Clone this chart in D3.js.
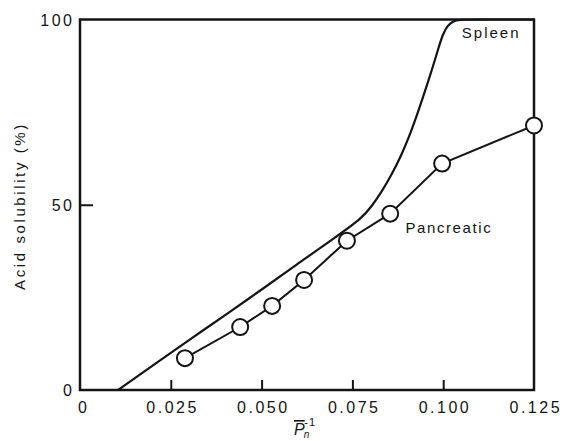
<!DOCTYPE html>
<html><head><meta charset="utf-8">
<script src="https://cdn.jsdelivr.net/npm/d3@7"></script>
<style>body{margin:0;background:#fff}svg{display:block}</style>
</head><body><svg id="c" width="562" height="441"></svg>
<script>
// ---- data ----
const xTicks = [0, 0.025, 0.05, 0.075, 0.1, 0.125];
const xTickLabels = ["0", "0.025", "0.050", "0.075", "0.100", "0.125"];
const xInnerTicks = [0.025, 0.05, 0.075, 0.1];
const yTicks = [0, 50, 100];
const yTickLabels = ["0", "50", "100"];
const yInnerTicks = [50];
const pancX = [0.0289, 0.0441, 0.0529, 0.0617, 0.0735, 0.0854, 0.0997, 0.125];
const pancY = [8.6, 17.0, 22.7, 29.7, 40.3, 47.6, 61.1, 71.4];
const spleenX = [0.0105, 0.0200, 0.0300, 0.0413, 0.0500, 0.0600, 0.0700, 0.0776, 0.0804, 0.0832, 0.0859, 0.0884, 0.0906, 0.0925, 0.0942, 0.0958, 0.0972, 0.0986, 0.0999, 0.1013, 0.1027, 0.1041, 0.1100, 0.125];
const spleenY = [0, 6.6, 13.5, 21.1, 27.1, 34.1, 41.0, 46.3, 49.7, 53.7, 58.3, 63.2, 68.3, 73.4, 78.3, 83.1, 87.4, 92.0, 96.1, 98.5, 99.5, 100, 100, 100];
const seriesLabels = ["Spleen", "Pancreatic"];
const xTitle = ["P", "n", "-1"];
const yTitle = "Acid solubility (%)";

// ---- layout ----
const L = 80, R = 534, T = 19.5, B = 390;
const ink = "#141414";
const font = "'Liberation Sans', Arial, sans-serif";
const svg = d3.select("#c");
const x = d3.scaleLinear().domain([0, 0.125]).range([L, R]);
const y = d3.scaleLinear().domain([0, 100]).range([B, T]);

// frame
svg.append("rect").attr("x", L).attr("y", T).attr("width", R - L).attr("height", B - T)
  .attr("fill", "none").attr("stroke", ink).attr("stroke-width", 2.5);

// inner ticks
const gx = svg.append("g").attr("transform", `translate(0,${B})`)
  .call(d3.axisBottom(x).tickValues(xInnerTicks).tickSizeInner(-10).tickSizeOuter(0).tickFormat(""));
gx.select(".domain").remove();
gx.selectAll("line").attr("stroke", ink).attr("stroke-width", 2);
const gy = svg.append("g").attr("transform", `translate(${L},0)`)
  .call(d3.axisLeft(y).tickValues(yInnerTicks).tickSizeInner(-13).tickSizeOuter(0).tickFormat(""));
gy.select(".domain").remove();
gy.selectAll("line").attr("stroke", ink).attr("stroke-width", 2);

// tick labels
const ls = 2.5;
const gxl = svg.append("g").attr("transform", `translate(0,${B})`)
  .call(d3.axisBottom(x).tickValues(xTicks).tickSize(0).tickFormat((d, i) => xTickLabels[i]));
gxl.select(".domain").remove();
gxl.selectAll("text").attr("y", 23).attr("dy", 0).attr("dx", ls / 2)
  .attr("font-family", font).attr("font-size", 16).attr("fill", ink)
  .style("letter-spacing", ls + "px");
gxl.selectAll(".tick").filter(d => d === 0).select("text").attr("dx", ls / 2 + 2);
const gyl = svg.append("g").attr("transform", `translate(${L},0)`)
  .call(d3.axisLeft(y).tickValues(yTicks).tickSize(0).tickFormat((d, i) => yTickLabels[i]));
gyl.select(".domain").remove();
gyl.selectAll("text").attr("x", -8 + ls).attr("dy", "0.36em")
  .attr("font-family", font).attr("font-size", 16).attr("fill", ink)
  .style("letter-spacing", ls + "px");

// spleen curve
const spleen = spleenX.map((v, i) => [v, spleenY[i]]);
svg.append("path").datum(spleen)
  .attr("d", d3.line().x(d => x(d[0])).y(d => y(d[1])).curve(d3.curveBasis))
  .attr("fill", "none").attr("stroke", ink).attr("stroke-width", 2.2);

// pancreatic
const panc = pancX.map((v, i) => [v, pancY[i]]);
svg.append("path").datum(panc)
  .attr("d", d3.line().x(d => x(d[0])).y(d => y(d[1])))
  .attr("fill", "none").attr("stroke", ink).attr("stroke-width", 2);
svg.selectAll("circle.p").data(panc).join("circle").attr("class", "p")
  .attr("cx", d => x(d[0])).attr("cy", d => y(d[1])).attr("r", 8)
  .attr("fill", "#fff").attr("stroke", ink).attr("stroke-width", 2);

// series labels
svg.append("text").attr("x", x(0.1132)).attr("y", y(94.9)).attr("text-anchor", "middle")
  .attr("font-family", font).attr("font-size", 15).attr("fill", ink)
  .style("letter-spacing", "2px").text(seriesLabels[0]);
svg.append("text").attr("x", x(0.0896)).attr("y", y(42.5))
  .attr("font-family", font).attr("font-size", 15).attr("fill", ink)
  .style("letter-spacing", "1.6px").text(seriesLabels[1]);

// axis titles
const xt = svg.append("text").attr("x", 294).attr("y", 435)
  .attr("font-family", font).attr("font-size", 16).attr("fill", ink);
xt.append("tspan").attr("font-style", "italic").style("text-decoration", "overline").text(xTitle[0]);
xt.append("tspan").attr("font-style", "italic").attr("font-size", 10).attr("dy", 3).attr("dx", -1).text(xTitle[1]);
xt.append("tspan").attr("font-size", 11).attr("dy", -12).attr("dx", -5).style("letter-spacing", "1px").text(xTitle[2]);

svg.append("text").attr("transform", `translate(25,206) rotate(-90)`).attr("text-anchor", "middle")
  .attr("font-family", font).attr("font-size", 15).attr("fill", ink)
  .style("letter-spacing", "2.6px").text(yTitle);
</script></body></html>
